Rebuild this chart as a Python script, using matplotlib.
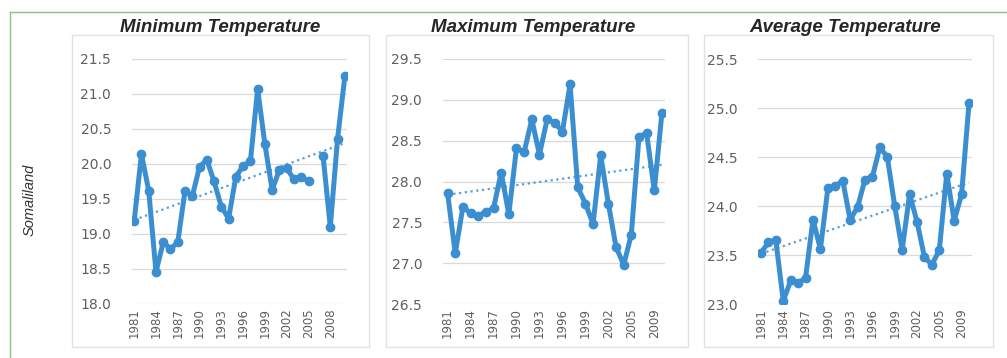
import numpy as np
import matplotlib.pyplot as plt
from matplotlib.patches import Rectangle
from matplotlib.lines import Line2D

# Minimum temperature, 1981-2010 (2006 missing)
min_years = list(range(1981, 2011))
min_temp = [19.18, 20.14, 19.62, 18.46, 18.88, 18.79, 18.88, 19.62, 19.54, 19.96,
            20.06, 19.75, 19.39, 19.22, 19.82, 19.97, 20.04, 21.07, 20.28, 19.63,
            19.92, 19.94, 19.78, 19.82, 19.75, np.nan, 20.12, 19.10, 20.36, 21.25]

# Maximum / average temperature, 1981-2005 and 2007-2010
ma_years = list(range(1981, 2006)) + [2007, 2008, 2009, 2010]
max_temp = [27.86, 27.12, 27.69, 27.61, 27.58, 27.63, 27.67, 28.11, 27.60, 28.41,
            28.36, 28.76, 28.33, 28.76, 28.72, 28.61, 29.19, 27.93, 27.73, 27.48,
            28.32, 27.73, 27.20, 26.98, 27.35, 28.55, 28.59, 27.89, 28.84]
avg_temp = [23.52, 23.63, 23.65, 23.03, 23.24, 23.21, 23.27, 23.86, 23.56, 24.18,
            24.20, 24.26, 23.86, 23.99, 24.27, 24.30, 24.60, 24.50, 24.00, 23.55,
            24.12, 23.84, 23.48, 23.40, 23.55, 24.33, 23.85, 24.12, 25.05]

titles = ["Minimum Temperature", "Maximum Temperature", "Average Temperature"]
row_label = "Somaliland"

blue = '#3b8fd0'
W, H = 1007, 358

fig = plt.figure(figsize=(W / 100, H / 100), dpi=100)
fig.patch.set_facecolor('white')


def px(x0, y0, x1, y1):
    # pixel box (top-left origin) -> figure fraction rect
    return [x0 / W, 1 - y1 / H, (x1 - x0) / W, (y1 - y0) / H]


# green outer frame (top and left edges)
fig.add_artist(Line2D([10 / W, 1], [1 - 12 / H, 1 - 12 / H], color='#8cc084', lw=1.0))
fig.add_artist(Line2D([10 / W, 10 / W], [1 - 12 / H, 0], color='#8cc084', lw=1.0))

# light panel boxes
boxes = [(72, 35, 369, 347), (386, 35, 688, 347), (704, 35, 993, 347)]
for b in boxes:
    r = px(*b)
    fig.add_artist(Rectangle((r[0], r[1]), r[2], r[3], transform=fig.transFigure,
                             fill=False, ec='#e2e2e2', lw=1.0))

panels = [
    (min_years, min_temp, (18.0, 21.5), (132, 59, 347, 304), (-0.3, 29.3)),
    (ma_years, max_temp, (26.5, 29.5), (443, 59, 665, 304), (-0.6, 28.4)),
    (ma_years, avg_temp, (23.0, 25.5), (758, 59, 972, 304), (-0.4, 28.4)),
]
title_x = [220, 533, 845]

for i, (years, vals, ylim, box, xlim) in enumerate(panels):
    ax = fig.add_axes(px(*box))
    vals = np.array(vals, dtype=float)
    x = np.arange(len(vals))
    ax.plot(x, vals, color=blue, lw=3.6, marker='o', ms=6, mec=blue, mfc=blue,
            solid_joinstyle='round', zorder=3)

    # linear trendline
    ok = ~np.isnan(vals)
    k, b = np.polyfit(x[ok], vals[ok], 1)
    ax.plot(x, k * x + b, color=blue, lw=1.6, ls=(0, (1, 1.6)), alpha=0.85, zorder=2)

    ax.set_ylim(*ylim)
    ax.set_xlim(*xlim)
    ax.set_yticks(np.arange(ylim[0], ylim[1] + 0.01, 0.5))
    ax.yaxis.set_major_formatter(plt.FormatStrFormatter('%.1f'))
    ax.set_xticks(x[::3])
    ax.set_xticklabels([str(years[j]) for j in x[::3]], rotation=90)
    ax.grid(axis='y', color='#d9d9d9', lw=0.9)
    ax.set_axisbelow(True)
    for s in ax.spines.values():
        s.set_visible(False)
    ax.tick_params(axis='both', length=0, colors='#5f5f5f')
    ax.tick_params(axis='y', labelsize=10, pad=15)
    ax.tick_params(axis='x', labelsize=8.5, pad=3)

    fig.text(title_x[i] / W, 1 - 27 / H, titles[i], ha='center', va='center',
             fontsize=13.5, style='italic', weight='semibold', family='Liberation Sans',
             color='#262626')

fig.text(30 / W, 1 - 200 / H, row_label, rotation=90, ha='center', va='center',
         fontsize=10.5, style='italic', family='Liberation Sans', color='#333333')

fig.savefig('out.png', dpi=100)
